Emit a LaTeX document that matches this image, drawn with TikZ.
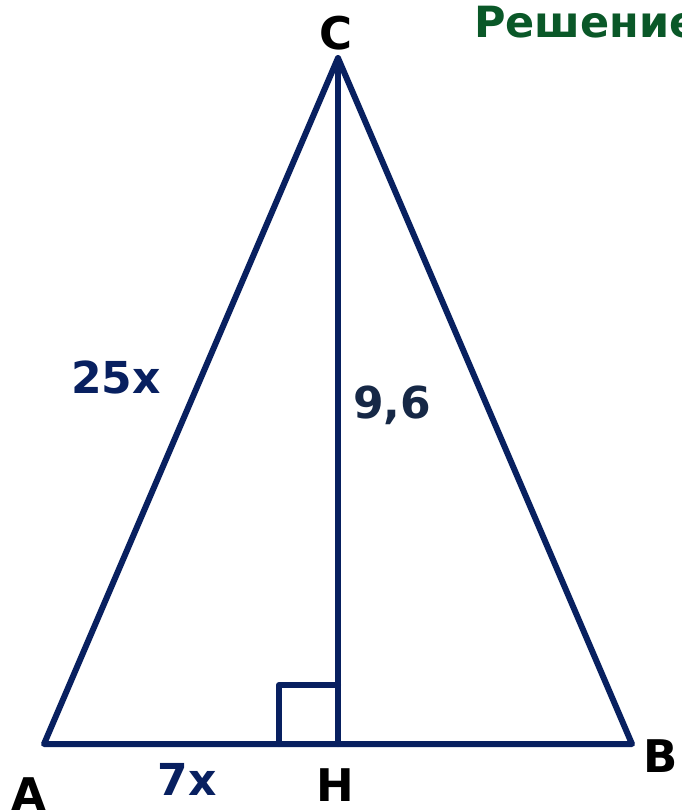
\documentclass[tikz,border=0pt]{standalone}
\usepackage{fontspec}
\setmainfont{DejaVu Sans}
\definecolor{navy}{RGB}{8,32,96}
\definecolor{slate}{RGB}{22,40,70}
\definecolor{dgreen}{RGB}{10,88,40}
\begin{document}
\begin{tikzpicture}[x=1pt,y=-1pt,
  edge/.style={draw=navy,line width=6pt,line join=round,line cap=round},
  vlab/.style={font=\fontsize{45}{50}\selectfont\bfseries,text=black,inner sep=0pt},
  slab/.style={font=\fontsize{44}{50}\selectfont\bfseries,text=navy,inner sep=0pt}]
\useasboundingbox (0,0) rectangle (681,811);
\fill[white] (0,0) rectangle (681,811);
\coordinate (A) at (44,744);
\coordinate (B) at (632,744);
\coordinate (C) at (338,58);
\coordinate (H) at (338,744);
\draw[edge] (A) -- (B) -- (C) -- cycle;
\draw[edge] (C) -- (H);
\draw[edge] (279,744) -- (279,685) -- (338,685);
\node[vlab] (lC) at (336,33) {C};
\node[vlab] (lA) at (29,794) {A};
\node[vlab] (lB) at (661,756) {B};
\node[vlab] (lH) at (335,785) {H};
\node[slab] (l25) at (116,377) {25x};
\node[slab] (l7) at (187,779) {7x};
\node[slab,text=slate] (l96) at (392,405) {9,6};
\node[font=\fontsize{43}{48}\selectfont\bfseries,text=dgreen,inner sep=0pt,anchor=west] (sol) at (474,22) {Решение};
\end{tikzpicture}
\end{document}
